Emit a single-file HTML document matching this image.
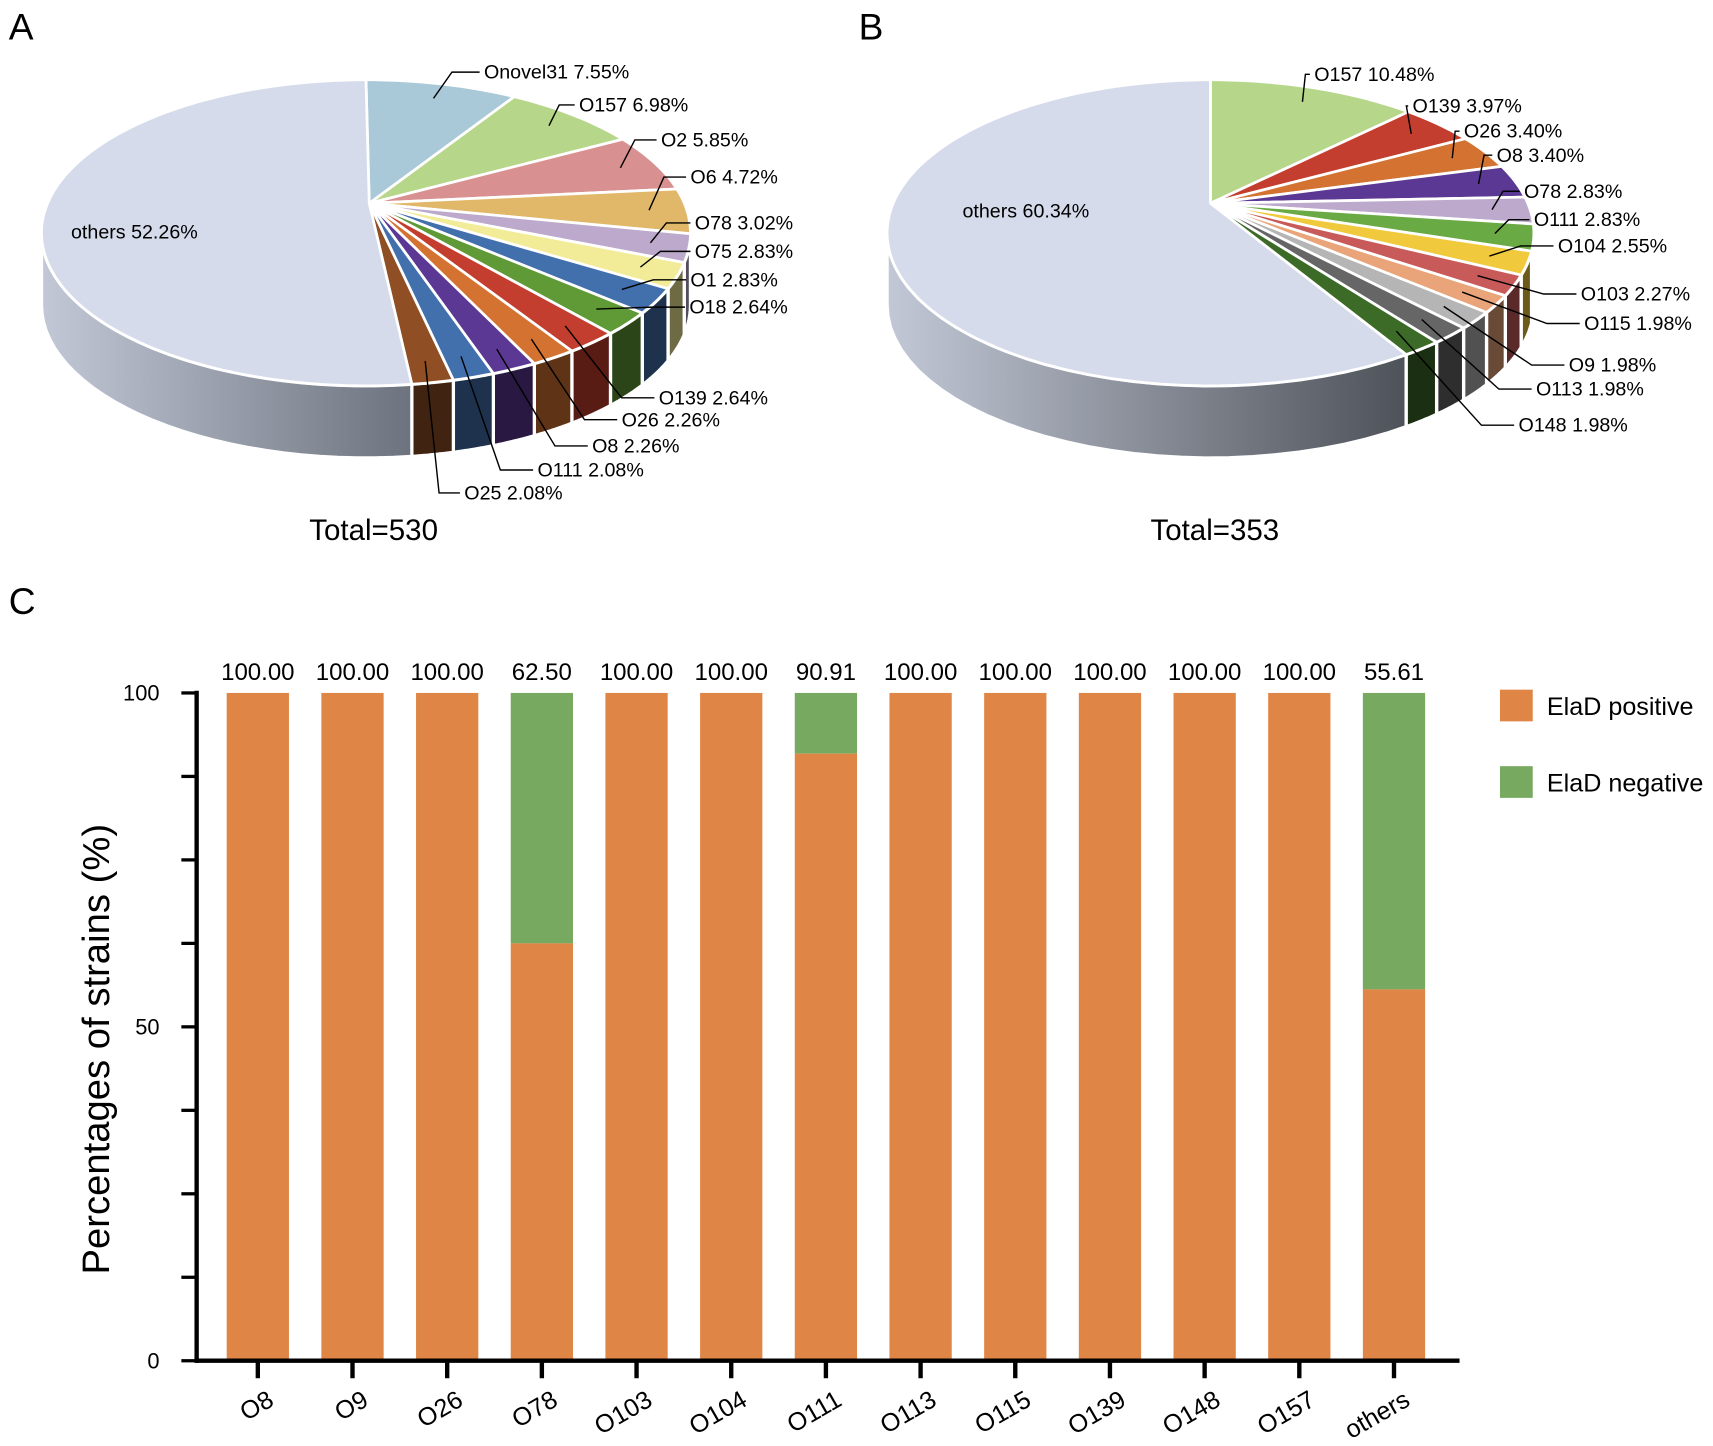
<!DOCTYPE html>
<html><head><meta charset="utf-8">
<style>
html,body{margin:0;padding:0;background:#fff;}
svg{display:block;font-family:"Liberation Sans",Arial,sans-serif;}
</style></head>
<body>
<svg id="fig" width="1713" height="1446" viewBox="0 0 1568 1323" preserveAspectRatio="none" xmlns="http://www.w3.org/2000/svg">
<defs>
<linearGradient id="sideA" x1="0" x2="1" y1="0" y2="0"><stop offset="0" stop-color="#c2c8d6"/><stop offset="1" stop-color="#6d737e"/></linearGradient>
<linearGradient id="sideB" x1="0" x2="1" y1="0" y2="0"><stop offset="0" stop-color="#c2c8d6"/><stop offset="1" stop-color="#4e5259"/></linearGradient>
</defs>
<g id="pieA"></g>
<g id="pieB"></g>
<g id="bars"></g>
<text x="8" y="36" font-size="34">A</text>
<text x="786" y="36" font-size="34">B</text>
<text x="8" y="562" font-size="34">C</text>
<text x="342" y="494" font-size="27" text-anchor="middle">Total=530</text>
<text x="1112" y="494" font-size="27" text-anchor="middle">Total=353</text>
</svg>
<script>
const NS='http://www.w3.org/2000/svg';
// ---- Pie A data ----
const pieALabels=['Onovel31','O157','O2','O6','O78','O75','O1','O18','O139','O26','O8','O111','O25','others'];
const pieAValues=[7.55,6.98,5.85,4.72,3.02,2.83,2.83,2.64,2.64,2.26,2.26,2.08,2.08,52.26];
// ---- Pie B data ----
const pieBLabels=['O157','O139','O26','O8','O78','O111','O104','O103','O115','O9','O113','O148','others'];
const pieBValues=[10.48,3.97,3.40,3.40,2.83,2.83,2.55,2.27,1.98,1.98,1.98,1.98,60.34];
// ---- Bar chart data ----
const barCategories=['O8','O9','O26','O78','O103','O104','O111','O113','O115','O139','O148','O157','others'];
const positiveValues=[100,100,100,62.5,100,100,90.91,100,100,100,100,100,55.61];
const valueLabels=['100.00','100.00','100.00','62.50','100.00','100.00','90.91','100.00','100.00','100.00','100.00','100.00','55.61'];
const yTickLabels=[0,50,100];

function mk(tag,attrs,parent){const e=document.createElementNS(NS,tag);for(const k in attrs)e.setAttribute(k,attrs[k]);if(parent)parent.appendChild(e);return e;}
function shade(hex,f){const n=parseInt(hex.slice(1),16);let r=n>>16,g=(n>>8)&255,b=n&255;r=Math.round(r*f);g=Math.round(g*f);b=Math.round(b*f);return `rgb(${r},${g},${b})`;}

function drawPie(g,labels,values,cfg){
  const {cx,cy,ax,ay,rx,ry,depth,colors,labelPos,othersPos,sideGrad}=cfg;
  const P=t=>[cx+rx*Math.cos(t),cy+ry*Math.sin(t)];
  const total=values.reduce((a,b)=>a+b,0);
  let t0=-Math.PI/2;
  const slices=values.map((v,i)=>{const t1=t0+v/total*2*Math.PI;const s={i,t0,t1};t0=t1;return s;});
  slices.forEach(s=>{
    for(const off of [0,2*Math.PI]){
      let a=Math.max(s.t0-off,0), b=Math.min(s.t1-off,Math.PI);
      if(b<=a) continue;
      const n=30;let d='';
      for(let k=0;k<=n;k++){const p=P(a+(b-a)*k/n);d+=(k?'L':'M')+p[0].toFixed(1)+' '+p[1].toFixed(1);}
      for(let k=n;k>=0;k--){const p=P(a+(b-a)*k/n);d+='L'+p[0].toFixed(1)+' '+(p[1]+depth).toFixed(1);}
      const isOther=labels[s.i]==='others';
      const el=mk('path',{d:d+'Z',fill:isOther?sideGrad:shade(colors[s.i],0.45),stroke:'#fff','stroke-width':3,'stroke-linejoin':'round'},g);
      
      
    }
  });
  slices.forEach(s=>{
    const n=Math.max(4,Math.ceil((s.t1-s.t0)*40));let d='M'+ax+' '+ay;
    for(let k=0;k<=n;k++){const p=P(s.t0+(s.t1-s.t0)*k/n);d+='L'+p[0].toFixed(1)+' '+p[1].toFixed(1);}
    const el=mk('path',{d:d+'Z',fill:colors[s.i],stroke:'#fff','stroke-width':2.5,'stroke-linejoin':'round'},g);
    
    
  });
  slices.forEach(s=>{
    const lbl=labels[s.i]+' '+values[s.i].toFixed(2)+'%';
    if(labels[s.i]==='others'){
      const t=mk('text',{x:othersPos[0],y:othersPos[1],'font-size':18},g);t.textContent=lbl;
      
      
      return;
    }
    const tm=(s.t0+s.t1)/2;const p=P(tm);
    const anc=[ax+(p[0]-ax)*0.88,ay+(p[1]-ay)*0.88];
    const lp=labelPos[s.i];
    const elbowX=lp[0]-4, elbowY=lp[1]-6;
    const line=mk('polyline',{points:`${anc[0].toFixed(1)},${anc[1].toFixed(1)} ${(elbowX-Math.min(30,Math.abs(elbowX-anc[0])*0.6)).toFixed(1)},${elbowY} ${elbowX},${elbowY}`,fill:'none',stroke:'#000','stroke-width':1.3},g);
    
    
    const t=mk('text',{x:lp[0],y:lp[1],'font-size':18},g);t.textContent=lbl;
    
    
  });
}

drawPie(document.getElementById('pieA'),pieALabels,pieAValues,{
  cx:335,cy:213,ax:338,ay:186,rx:297,ry:140,depth:66,sideGrad:'url(#sideA)',
  colors:['#a9c8d8','#b6d68a','#d99090','#e1b86a','#bca9cc','#f2ec98','#4270ad','#5f9a36','#c33e2e','#d37231','#5b3893','#4270ad','#8f4e23','#d5dbea'],
  labelPos:[[443,72],[530,102],[605,134],[632,168],[636,210],[636,236],[632,262],[631,287],[603,370],[569,390],[542,414],[492,436],[425,457]],
  othersPos:[65,218]
});
drawPie(document.getElementById('pieB'),pieBLabels,pieBValues,{
  cx:1108,cy:213,ax:1108,ay:186,rx:296,ry:140,depth:66,sideGrad:'url(#sideB)',
  colors:['#b6d68a','#c33e2e','#d37231','#5b3893','#bca9cc','#6aaa45','#f0c93c','#c85a5a','#e9a47a','#b5b5b5','#666666','#3c6b28','#d5dbea'],
  labelPos:[[1203,74],[1293,103],[1340,126],[1370,148],[1395,181],[1404,207],[1426,231],[1447,275],[1450,302],[1436,340],[1406,362],[1390,395]],
  othersPos:[881,199]
});

(function(){
  const g=document.getElementById('bars');
  const X0=180,Y0=1245,Ytop=634,xEnd=1336;
  const first=236,step=(1276-236)/12,bw=57;
  const y=v=>Y0-(Y0-Ytop)*v/100;
  const xc=i=>first+i*step;
  barCategories.forEach((c,i)=>{
    const pos=positiveValues[i];
    const gr=mk('rect',{x:xc(i)-bw/2,y:y(100),width:bw,height:y(pos)-y(100),fill:'#77aa60'},g);
    
    
    const og=mk('rect',{x:xc(i)-bw/2,y:y(pos),width:bw,height:Y0-y(pos),fill:'#df8545'},g);
    
    
    const vl=mk('text',{x:xc(i),y:622,'font-size':22,'text-anchor':'middle'},g);vl.textContent=valueLabels[i];
    
    
    const tk=mk('line',{x1:xc(i),x2:xc(i),y1:Y0,y2:Y0+16,stroke:'#000','stroke-width':4},g);
    
    
    const xl=mk('text',{x:0,y:0,'font-size':23,'text-anchor':'end',transform:`translate(${xc(i)+16},${Y0+40}) rotate(-30)`},g);xl.textContent=c;
    
    
  });
  for(let v=0;v<=100;v+=12.5){
    const t=mk('line',{x1:X0-14,x2:X0,y1:y(v),y2:y(v),stroke:'#000','stroke-width':3},g);
    
    
  }
  yTickLabels.forEach(v=>{
    const t=mk('text',{x:X0-34,y:y(v)+7,'font-size':20,'text-anchor':'end'},g);t.textContent=v;
    
    
  });
  const ya=mk('line',{x1:X0,x2:X0,y1:Ytop-2,y2:Y0+2,stroke:'#000','stroke-width':4},g);
  
  
  const xa=mk('line',{x1:X0-2,x2:xEnd,y1:Y0,y2:Y0,stroke:'#000','stroke-width':4},g);
  
  
  const yt=mk('text',{x:0,y:0,'font-size':35,'text-anchor':'middle',transform:'translate(100,960) rotate(-90)'},g);yt.textContent='Percentages of strains (%)';
  
  
  const legend=[['ElaD positive','#df8545',631],['ElaD negative','#77aa60',701]];
  legend.forEach(([l,c,yy])=>{
    const r=mk('rect',{x:1373,y:yy,width:30,height:29,fill:c},g);
    
    
    const t=mk('text',{x:1416,y:yy+23,'font-size':23},g);t.textContent=l;
    
    
  });
})();
</script>
</body></html>
